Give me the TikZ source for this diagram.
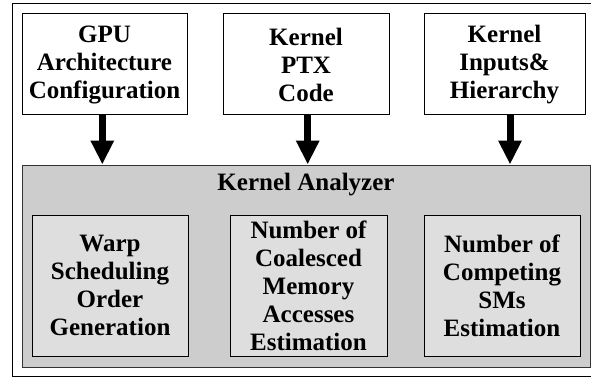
\documentclass[tikz,border=0pt]{standalone}
\usepackage{fontspec}
\setmainfont{Liberation Serif}
\usetikzlibrary{arrows.meta}

\definecolor{analyzerfill}{HTML}{CDCDCD}
\definecolor{partfill}{HTML}{DEDEDE}
\definecolor{edgegray}{HTML}{333333}

\tikzset{
  boxtext/.style={font=\fontsize{25}{28}\selectfont\bfseries, align=center},
  inputbox/.style={draw=black, line width=1pt, fill=white, inner sep=0pt,
    boxtext},
  analyzerbox/.style={draw=edgegray, line width=1pt, fill=analyzerfill,
    inner sep=0pt},
  partbox/.style={draw=black, line width=1pt, fill=partfill, inner sep=0pt,
    boxtext},
  flowarrow/.style={line width=7pt,
    -{Triangle[width=22pt,length=24pt]}},
}

\begin{document}
\begin{tikzpicture}[x=1pt,y=-1pt]
  \useasboundingbox (0,0) rectangle (591,377);
  \clip (0,0) rectangle (591,377);
  \fill[white] (0,0) rectangle (591,377);

  % outer frame
  \draw[line width=1pt, black] (12,4) rectangle (610,376);

  % input boxes
  \node[inputbox, minimum width=165pt, minimum height=101pt] (gpu)
    at (104.5,64.5) {GPU\\Architecture\\Configuration};
  \node[inputbox, minimum width=166pt, minimum height=101pt] (ptx)
    at (306,64.5) {Kernel\\PTX\\Code};
  \node[inputbox, minimum width=161pt, minimum height=101pt] (inp)
    at (504.5,64.5) {Kernel\\Inputs\&\\Hierarchy};

  % analyzer block
  \node[analyzerbox, minimum width=568pt, minimum height=202pt] (ka)
    at (306,266) {};
  \node[boxtext, anchor=base] (katitle) at (306,190) {Kernel Analyzer};

  % analyzer parts
  \node[partbox, minimum width=156pt, minimum height=141pt] (warp)
    at (110,285.5) {Warp\\Scheduling\\Order\\Generation};
  \node[partbox, minimum width=157pt, minimum height=141pt] (coal)
    at (308.5,285.5) {Number of\\Coalesced\\Memory\\Accesses\\Estimation};
  \node[partbox, minimum width=156pt, minimum height=141pt] (sms)
    at (502,285.5) {Number of\\Competing\\SMs\\Estimation};

  % data flow into the analyzer
  \draw[flowarrow] (gpu.south -| 102.3,0) -- (ka.north -| 102.3,0);
  \draw[flowarrow] (ptx.south -| 307.7,0) -- (ka.north -| 307.7,0);
  \draw[flowarrow] (inp.south -| 510,0) -- (ka.north -| 510,0);
\end{tikzpicture}
\end{document}
